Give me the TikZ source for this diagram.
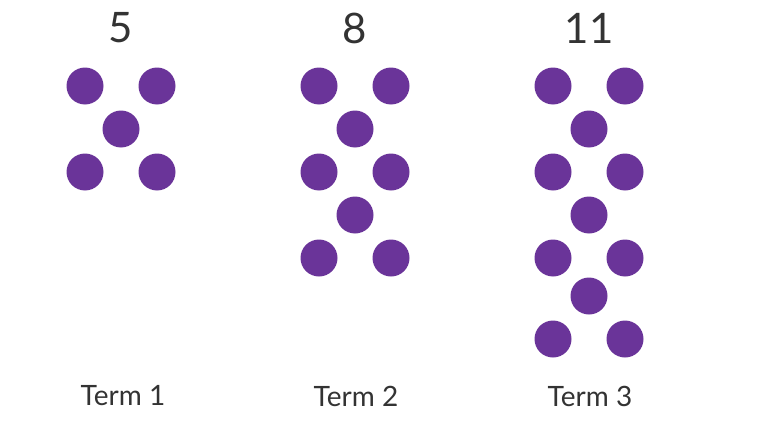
\documentclass[tikz,border=0pt]{standalone}
\usepackage{fontspec}
\setmainfont{Lato}
\definecolor{dotpurple}{HTML}{6A3499}
\definecolor{txtgray}{HTML}{333333}
\begin{document}
\begin{tikzpicture}[x=1pt,y=-1pt,
  dot/.style={circle,fill=dotpurple,draw=none,minimum size=37pt,inner sep=0pt},
  numlabel/.style={text=txtgray,font=\fontsize{42}{42}\selectfont,inner sep=0pt},
  termlabel/.style={text=txtgray,font=\fontsize{28}{28}\selectfont,inner sep=0pt}]
\useasboundingbox (0,0) rectangle (769,431);
% Term 1
\node[numlabel] (n1) at (121,28) {5};
\node[dot] (a1) at (85,86) {};
\node[dot] (a2) at (157,86) {};
\node[dot] (a3) at (121,129) {};
\node[dot] (a4) at (85,172) {};
\node[dot] (a5) at (157,172) {};
\node[termlabel] (t1) at (123,396) {Term 1};
% Term 2
\node[numlabel] (n2) at (355,28) {8};
\node[dot] (b1) at (319,86) {};
\node[dot] (b2) at (391,86) {};
\node[dot] (b3) at (355,129) {};
\node[dot] (b4) at (319,172) {};
\node[dot] (b5) at (391,172) {};
\node[dot] (b6) at (355,215) {};
\node[dot] (b7) at (319,258) {};
\node[dot] (b8) at (391,258) {};
\node[termlabel] (t2) at (356,396) {Term 2};
% Term 3
\node[numlabel] (n3) at (589,28) {11};
\node[dot] (c1) at (553,86) {};
\node[dot] (c2) at (625,86) {};
\node[dot] (c3) at (589,129) {};
\node[dot] (c4) at (553,172) {};
\node[dot] (c5) at (625,172) {};
\node[dot] (c6) at (589,215) {};
\node[dot] (c7) at (553,258) {};
\node[dot] (c8) at (625,258) {};
\node[dot] (c9) at (589,296) {};
\node[dot] (c10) at (553,339) {};
\node[dot] (c11) at (625,339) {};
\node[termlabel] (t3) at (590,396) {Term 3};
\end{tikzpicture}
\end{document}
